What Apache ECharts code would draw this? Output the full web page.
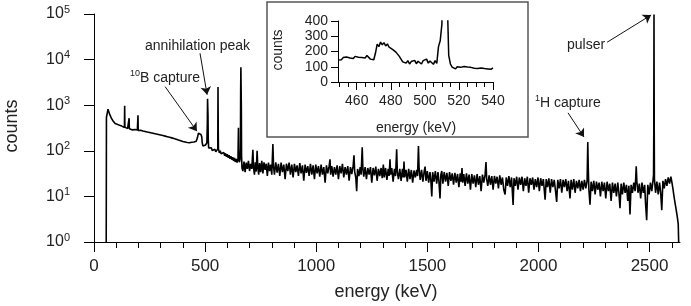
<!DOCTYPE html>
<html>
<head>
<meta charset="utf-8">
<script src="https://cdn.jsdelivr.net/npm/echarts@6/dist/echarts.min.js"></script>
<style>
html,body{margin:0;padding:0;background:#fff;}
#chart{width:691px;height:306px;}
</style>
</head>
<body>
<div id="chart"></div>
<script>
// main spectrum, [energy keV, counts]
var spectrum = [
 [55,1],[56,540],[60,690],[63,820],[66,760],[70,640],[74,580],[78,520],[82,480],[86,450],[90,420],[95,395],[100,370],[105,380],[110,350],[115,362],[120,340],[125,348],[130,330],[134,338],[137,325],[138,970],[139,330],[143,318],[147,328],[151,306],[155,315],[157,300],[158,520],[159,305],[163,296],[167,306],[171,288],[175,298],[180,282],[185,292],[190,276],[195,285],[197,280],[198,600],[199,278],
 [205,270],[210,282],[215,262],[220,272],[225,256],[230,266],[235,250],[240,258],[245,244],[250,252],[255,238],[260,246],[265,232],[270,240],[275,226],[280,234],[285,220],[290,228],[295,214],[300,222],[305,208],[310,216],[315,202],[320,210],[325,196],[330,204],[335,190],[340,198],[345,184],[350,192],[355,178],[360,186],[365,172],[370,180],[375,166],[380,172],[385,160],[390,166],[395,154],[400,160],[405,150],[410,156],[415,146],[420,152],[425,144],[430,150],[435,142],[440,154],[445,146],[450,156],[455,150],[460,162],[465,190],[470,245],[474,262],[478,248],[482,225],[485,200],[487,150],[490,128],[494,136],[498,124],[502,134],[506,126],[508,150],[509,260],[510,380],[511,1380],[512,1300],[513,600],[514,180],[516,115],[520,120],[524,106],[528,116],[532,102],[536,112],[540,98],[544,108],[548,95],[552,104],[556,92],[557,110],[558,2500],[559,320],[560,110],[564,90],[568,100],[572,86],[576,95],[580,82],[584,92],[588,78],[592,88],[596,74],[600,84],[604,70],[608,80],[612,67],[616,76],[620,64],[624,72],[628,60],[632,70],[636,57],[640,66],[644,55],[648,68],[650,320],[651,75],[654,56],[657,64],[659,120],[660,2000],[661,6800],[662,6200],[663,900],[664,80],[666,42],
 [670,36],[675,58],[680,34],[685,55],[690,40],[695,60],[700,36],[705,52],[710,40],[715,105],[718,42],[722,30],[726,56],[730,35],[734,100],[737,45],[741,30],[745,54],[750,34],[755,60],[760,32],[765,56],[770,38],[775,52],[780,28],[785,55],[790,36],[795,50],[800,30],[805,140],[808,45],[812,30],[818,56],[824,33],[830,52],[836,28],[842,55],[848,34],[854,50],[860,24],[866,52],[872,36],[878,55],[884,30],[890,50],[896,26],[902,52],[908,34],[914,48],[920,28],[926,54],[932,32],[938,48],[944,22],[950,50],[956,33],[962,46],[968,28],[974,52],[980,30],[986,48],[992,24],[998,50],
 [1004,32],[1010,46],[1016,27],[1022,50],[1028,30],[1034,44],[1040,20],[1046,48],[1052,32],[1058,46],[1062,65],[1065,30],[1070,46],[1076,27],[1082,44],[1088,30],[1094,48],[1100,24],[1106,46],[1112,32],[1118,52],[1124,26],[1130,44],[1136,30],[1142,46],[1148,22],[1154,44],[1160,31],[1166,46],[1170,80],[1173,35],[1178,26],[1182,13],[1186,40],[1192,28],[1198,44],[1202,30],[1207,120],[1210,40],[1214,27],[1220,44],[1226,24],[1232,42],[1238,30],[1244,44],[1250,20],[1256,42],[1262,29],[1268,45],[1274,22],[1280,40],[1286,28],[1292,42],[1297,25],[1302,50],[1306,26],[1312,42],[1318,23],[1324,40],[1328,28],[1332,65],[1335,30],[1340,42],[1346,21],[1352,40],[1357,28],[1362,108],[1365,34],[1370,24],[1376,40],[1382,22],[1388,40],[1392,26],[1395,58],[1398,26],[1404,38],[1410,21],[1416,40],[1422,24],[1428,38],[1434,20],[1440,37],[1446,26],[1452,38],[1456,28],[1460,127],[1463,40],[1468,23],[1474,38],[1480,21],[1486,36],[1490,45],[1494,22],[1500,36],
 [1506,20],[1512,34],[1516,22],[1520,10],[1524,34],[1530,21],[1536,36],[1542,19],[1548,34],[1552,22],[1557,9],[1561,30],[1565,36],[1570,19],[1576,34],[1582,21],[1588,33],[1594,17],[1600,34],[1606,22],[1612,32],[1618,18],[1624,33],[1630,20],[1636,31],[1642,16],[1648,32],[1652,21],[1656,42],[1659,20],[1664,31],[1670,17],[1676,32],[1682,19],[1688,30],[1694,14],[1700,31],[1706,19],[1712,29],[1718,16],[1724,31],[1730,18],[1736,28],[1742,13],[1748,30],[1754,20],[1760,30],[1764,57],[1767,24],[1772,17],[1778,29],[1784,18],[1790,28],[1796,14],[1802,28],[1808,19],[1814,27],[1820,15],[1826,29],[1832,18],[1838,26],[1844,14],[1850,11],[1855,26],[1861,17],[1867,28],[1873,16],[1879,26],[1886,6.5],[1890,25],[1896,17],[1902,27],[1908,14],[1914,26],[1920,18],[1926,27],[1932,13],[1938,25],[1944,17],[1950,27],[1956,12],[1962,25],[1968,18],[1974,26],[1980,14],[1986,24],[1992,16],[1998,26],
 [2004,13],[2010,25],[2016,17],[2022,24],[2030,8.5],[2035,24],[2041,16],[2047,25],[2053,12],[2059,24],[2065,16],[2071,23],[2077,13],[2082,7.6],[2087,23],[2093,15],[2099,24],[2105,12],[2111,23],[2117,16],[2123,24],[2129,13],[2135,22],[2142,9],[2147,23],[2153,14],[2159,24],[2165,12],[2171,22],[2177,15],[2183,23],[2189,13],[2195,22],[2201,14],[2207,23],[2213,15],[2219,22],[2222,155],[2224,45],[2227,14],[2232,6.6],[2237,21],[2243,13],[2249,22],[2255,11],[2261,21],[2267,14],[2273,20],[2279,10],[2285,21],[2291,13],[2297,20],[2303,9],[2309,21],[2315,13],[2321,19],[2327,8],[2333,20],[2339,12],[2345,19],[2351,10],[2357,20],[2362,12],[2367,5.5],[2372,19],[2378,11],[2384,20],[2390,12],[2396,18],[2402,8],[2407,17],[2412,4],[2417,18],[2423,12],[2429,20],[2435,13],[2440,46],[2443,21],[2448,12],[2454,19],[2460,9],[2466,20],[2472,12],[2478,18],[2482,7],[2487,3],[2492,18],[2498,11],
 [2504,20],[2510,13],[2515,21],[2518,30],[2519,260],[2520,98000],[2521,300],[2522,24],[2527,12],[2533,21],[2539,11],[2545,20],[2550,12],[2555,5],[2560,22],[2566,15],[2572,24],[2578,17],[2584,26],[2590,19],[2596,27],[2600,21],[2605,15],[2610,10],[2615,7],[2620,5],[2625,3.5],[2629,2.5],[2631,1]
];

// inset: zoom around the annihilation peak, 1 keV channels
var insetEnergy = [449,450,451,452,453,454,455,456,457,458,459,460,461,462,463,464,465,466,467,468,469,470,471,472,473,474,475,476,477,478,479,480,481,482,483,484,485,486,487,488,489,490,491,492,493,494,495,496,497,498,499,500,501,502,503,504,505,506,507,508,509,510,511,512,513,514,515,516,517,518,519,520,521,522,523,524,525,526,527,528,529,530,531,532,533,534,535,536,537,538,539,540];
var insetCounts = [145,158,146,160,150,164,152,158,166,154,168,158,162,172,160,170,158,174,165,150,140,146,190,248,232,262,244,258,236,250,228,238,214,222,196,206,168,150,132,138,124,140,118,134,126,142,120,136,128,118,140,132,150,124,138,126,116,140,122,232,270,380,1380,1300,600,175,118,98,92,86,100,90,96,86,102,92,98,88,96,100,90,97,88,98,92,96,88,94,86,96,84,92];

var xMajorTicks = [0,500,1000,1500,2000,2500];
var xMinorTicks = [100,200,300,400,600,700,800,900,1100,1200,1300,1400,1600,1700,1800,1900,2100,2200,2300,2400,2600];
var yTicks = [1,10,100,1000,10000,100000];
var insetXMajor = [460,480,500,520,540];
var insetXMinor = [450,455,465,470,475,485,490,495,505,510,515,525,530,535];

// arrows: [label, from [keV, counts], to [keV, counts]]
var arrows = [
 ['annihilation peak', [477,13800], [509,1700]],
 ['10B capture', [320,2550], [463,270]],
 ['1H capture', [2133,680], [2205,200]],
 ['pulser', [2309,24000], [2507,95000]]
];

var FONT = '"Liberation Sans", Arial, Helvetica, sans-serif';
var INK = '#222';

var chart = echarts.init(document.getElementById('chart'), null, {renderer: 'canvas'});

var insetData = insetEnergy.map(function (e, i) { return [e, insetCounts[i]]; });
var arrowLines = arrows.map(function (a) {
	return [{coord: a[1]}, {coord: a[2]}];
});
var plain = function (v) { return String(v); };

function tickAxis(grid, min, max, ticks, len, withLine) {
	return {
		type: 'value', gridIndex: grid, position: 'bottom', min: min, max: max,
		axisLine: {show: withLine, lineStyle: {color: '#000', width: 1}},
		axisTick: {show: true, length: len, customValues: ticks, lineStyle: {color: '#000', width: 1}},
		axisLabel: {show: false},
		splitLine: {show: false}
	};
}

var mainX = tickAxis(0, -27, 2637, xMajorTicks, 10, true);
mainX.axisLabel = {show: true, customValues: xMajorTicks, formatter: plain, fontSize: 17, fontFamily: FONT, color: INK, margin: 16};
var insetX = tickAxis(1, 449, 540, insetXMajor, 8, true);
insetX.axisLabel = {show: true, customValues: insetXMajor, formatter: plain, fontSize: 14, fontFamily: FONT, color: INK, margin: 12};

chart.setOption({
	animation: false,
	backgroundColor: '#fff',
	grid: [
		{left: 88, right: 11, top: 14, bottom: 64},
		{left: 338, right: 198, top: 21, bottom: 224}
	],
	xAxis: [
		mainX,
		tickAxis(0, -27, 2637, xMinorTicks, 6, false),
		insetX,
		tickAxis(1, 449, 540, insetXMinor, 5, false)
	],
	yAxis: [
		{
			type: 'log', logBase: 10, gridIndex: 0, min: 1, max: 100000,
			axisLine: {show: true, lineStyle: {color: '#000', width: 1}},
			axisTick: {show: true, length: 10, customValues: yTicks, lineStyle: {color: '#000'}},
			axisLabel: {
				customValues: yTicks, margin: 18, color: INK,
				formatter: function (v) {
					return '{b|10}{e|' + Math.round(Math.log10(v)) + '}';
				},
				rich: {
					b: {fontSize: 16, fontFamily: FONT, color: INK, lineHeight: 20},
					e: {fontSize: 11, fontFamily: FONT, color: INK, verticalAlign: 'top', lineHeight: 12}
				}
			},
			splitLine: {show: false}
		},
		{
			type: 'value', gridIndex: 1, min: 0, max: 400, interval: 100,
			axisLine: {show: true, lineStyle: {color: '#000', width: 1}},
			axisTick: {show: true, length: 7, lineStyle: {color: '#000'}},
			axisLabel: {fontSize: 14, fontFamily: FONT, color: INK, margin: 10},
			splitLine: {show: false}
		}
	],
	series: [
		{
			type: 'line', xAxisIndex: 0, yAxisIndex: 0, data: spectrum,
			showSymbol: false, symbol: 'none',
			lineStyle: {color: '#000', width: 1.6},
			markLine: {
				silent: true, symbol: ['none', 'arrow'], symbolSize: 8,
				lineStyle: {color: '#111', width: 1, type: 'solid'},
				label: {show: false},
				data: arrowLines
			}
		},
		{
			type: 'line', xAxisIndex: 2, yAxisIndex: 1, data: insetData,
			showSymbol: false, symbol: 'none', clip: true,
			lineStyle: {color: '#000', width: 1.5}
		}
	],
	graphic: [
		{type: 'rect', shape: {x: 267, y: 2, width: 261, height: 135}, style: {fill: 'none', stroke: '#555', lineWidth: 1.5}, z: 10},
		{type: 'text', x: 12, y: 126, rotation: Math.PI / 2, style: {text: 'counts', font: '18px ' + FONT, fill: INK, align: 'center', verticalAlign: 'middle'}},
		{type: 'text', x: 386, y: 292, style: {text: 'energy (keV)', font: '18px ' + FONT, fill: INK, align: 'center', verticalAlign: 'middle'}},
		{type: 'text', x: 278, y: 50, rotation: Math.PI / 2, style: {text: 'counts', font: '14px ' + FONT, fill: INK, align: 'center', verticalAlign: 'middle'}},
		{type: 'text', x: 416, y: 128, style: {text: 'energy (keV)', font: '14px ' + FONT, fill: INK, align: 'center', verticalAlign: 'middle'}},
		{type: 'text', x: 145, y: 46, style: {text: 'annihilation peak', font: '14px ' + FONT, fill: INK, align: 'left', verticalAlign: 'middle'}},
		{type: 'text', x: 130, y: 78, style: {
			text: '{s|10}{n|B capture}', align: 'left', verticalAlign: 'middle',
			rich: {s: {fontSize: 9, fontFamily: FONT, fill: INK, verticalAlign: 'top'}, n: {fontSize: 14, fontFamily: FONT, fill: INK, lineHeight: 18}}
		}},
		{type: 'text', x: 535, y: 103, style: {
			text: '{s|1}{n|H capture}', align: 'left', verticalAlign: 'middle',
			rich: {s: {fontSize: 9, fontFamily: FONT, fill: INK, verticalAlign: 'top'}, n: {fontSize: 14, fontFamily: FONT, fill: INK, lineHeight: 18}}
		}},
		{type: 'text', x: 567, y: 45, style: {text: 'pulser', font: '14px ' + FONT, fill: INK, align: 'left', verticalAlign: 'middle'}}
	]
});
</script>
</body>
</html>
